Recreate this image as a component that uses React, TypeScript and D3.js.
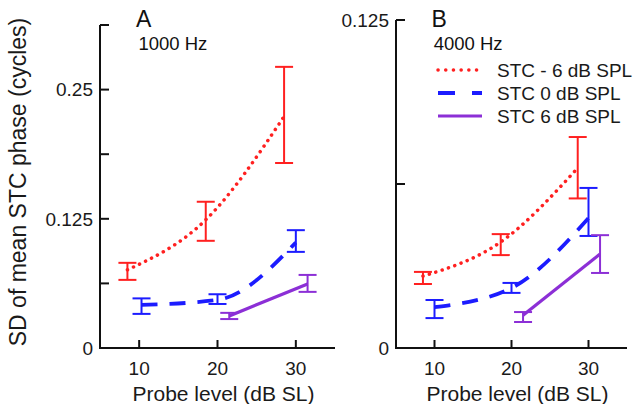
import React from "react";
import * as d3 from "d3";

// ---- data ----
const xTicks = [10, 20, 30];
// Panel A (1000 Hz)
const aRedX = [8.5, 18.5, 28.5];
const aRedY = [0.0756, 0.124, 0.224];
const aRedLo = [0.0659, 0.1037, 0.179];
const aRedHi = [0.0824, 0.1415, 0.272];
const aBlueX = [10.3, 20, 30];
const aBlueY = [0.0417, 0.0465, 0.102];
const aBlueLo = [0.033, 0.0426, 0.093];
const aBlueHi = [0.048, 0.052, 0.114];
const aPurX = [21.5, 31.5];
const aPurY = [0.031, 0.062];
const aPurLo = [0.028, 0.0543];
const aPurHi = [0.034, 0.0707];
const aYTicks = [0, 0.0625, 0.125, 0.1875, 0.25, 0.3125];
const aYLabels = ["0", "", "0.125", "", "0.25", ""];
// Panel B (4000 Hz)
const bRedX = [8.5, 18.6, 28.6];
const bRedY = [0.0274, 0.0404, 0.0686];
const bRedLo = [0.0244, 0.0354, 0.057];
const bRedHi = [0.029, 0.0434, 0.0804];
const bBlueX = [10, 20, 30];
const bBlueY = [0.0156, 0.0229, 0.0495];
const bBlueLo = [0.0114, 0.021, 0.0427];
const bBlueHi = [0.0183, 0.0248, 0.061];
const bPurX = [21.5, 31.5];
const bPurY = [0.0125, 0.0358];
const bPurLo = [0.0099, 0.0286];
const bPurHi = [0.0137, 0.043];
const bYTicks = [0, 0.0625, 0.125];
const bYLabels = ["0", "", "0.125"];

const legendLabels = ["STC - 6 dB SPL", "STC 0 dB SPL", "STC 6 dB SPL"];

const RED = "#ff2020";
const BLUE = "#1c1cff";
const PUR = "#8c2fd6";
const FONT = "'Liberation Sans', Arial, Helvetica, sans-serif";
const DOT = "0.1 6.6";
const DASH = "16 12";

type Series = { x: number[]; y: number[]; lo: number[]; hi: number[]; color: string; dash: string; width: number };

function Panel(props: {
  x0: number; x1: number; yTop: number; yBottom: number; yMax: number;
  yTicks: number[]; yLabels: string[]; series: Series[]; letter: string; freq: string;
}) {
  const { x0, x1, yTop, yBottom, yMax, yTicks, yLabels, series, letter, freq } = props;
  const xs = d3.scaleLinear().domain([5, 35]).range([x0, x1]);
  const ys = d3.scaleLinear().domain([0, yMax]).range([yBottom, yTop]);
  const line = d3.line<[number, number]>().x(d => xs(d[0])).y(d => ys(d[1])).curve(d3.curveMonotoneX);
  return (
    <g>
      {series.map((s, i) => (
        <g key={i}>
          <path d={line(s.x.map((v, j) => [v, s.y[j]] as [number, number])) || ""} fill="none" stroke={s.color}
            strokeWidth={s.width} strokeDasharray={s.dash} strokeLinecap={s.dash === DOT ? "round" : "butt"} />
          {s.x.map((v, j) => (
            <g key={j} stroke={s.color} strokeWidth={2}>
              <line x1={xs(v)} x2={xs(v)} y1={ys(s.lo[j])} y2={ys(s.hi[j])} />
              <line x1={xs(v) - 9} x2={xs(v) + 9} y1={ys(s.lo[j])} y2={ys(s.lo[j])} />
              <line x1={xs(v) - 9} x2={xs(v) + 9} y1={ys(s.hi[j])} y2={ys(s.hi[j])} />
            </g>
          ))}
        </g>
      ))}
      <line x1={x0} x2={x0} y1={yTop} y2={yBottom} stroke="#111" strokeWidth={2} />
      <line x1={x0 - 1} x2={x1} y1={yBottom} y2={yBottom} stroke="#111" strokeWidth={2} />
      {yTicks.map((t, i) => (
        <g key={i}>
          <line x1={x0} x2={x0 + 9} y1={ys(t)} y2={ys(t)} stroke="#111" strokeWidth={2} />
          <text x={x0 - 7} y={ys(t)} dy="0.36em" textAnchor="end" fontSize={19} fontFamily={FONT} fill="#1a1a1a">{yLabels[i]}</text>
        </g>
      ))}
      {xTicks.map((t, i) => (
        <g key={i}>
          <line x1={xs(t)} x2={xs(t)} y1={yBottom} y2={yBottom - 8} stroke="#111" strokeWidth={2} />
          <text x={xs(t)} y={yBottom + 27} textAnchor="middle" fontSize={19} fontFamily={FONT} fill="#1a1a1a">{t}</text>
        </g>
      ))}
      <text x={(x0 + x1) / 2 + 6} y={401} textAnchor="middle" fontSize={21} fontFamily={FONT} fill="#1a1a1a">Probe level (dB SL)</text>
      <text x={xs(9.6)} y={27} fontSize={23} fontFamily={FONT} fill="#111">{letter}</text>
      <text x={xs(9.9)} y={50} fontSize={18.5} fontFamily={FONT} fill="#111">{freq}</text>
    </g>
  );
}

export default function App() {
  const aSeries: Series[] = [
    { x: aRedX, y: aRedY, lo: aRedLo, hi: aRedHi, color: RED, dash: DOT, width: 3.5 },
    { x: aBlueX, y: aBlueY, lo: aBlueLo, hi: aBlueHi, color: BLUE, dash: DASH, width: 3.8 },
    { x: aPurX, y: aPurY, lo: aPurLo, hi: aPurHi, color: PUR, dash: "", width: 3.2 },
  ];
  const bSeries: Series[] = [
    { x: bRedX, y: bRedY, lo: bRedLo, hi: bRedHi, color: RED, dash: DOT, width: 3.5 },
    { x: bBlueX, y: bBlueY, lo: bBlueLo, hi: bBlueHi, color: BLUE, dash: DASH, width: 3.8 },
    { x: bPurX, y: bPurY, lo: bPurLo, hi: bPurHi, color: PUR, dash: "", width: 3.2 },
  ];
  const legendStyles = [
    { color: RED, dash: "0.1 7.6", width: 3.5, cap: "round" },
    { color: BLUE, dash: "17 17", width: 3.8, cap: "butt" },
    { color: PUR, dash: "", width: 3.2, cap: "butt" },
  ];
  return (
    <svg width={635} height={404} style={{ position: "absolute", left: 0, top: 0, background: "#fff" }}>
      <rect width={635} height={404} fill="#fff" />
      <text transform="translate(26,182) rotate(-90)" textAnchor="middle" fontSize={23} fontFamily={FONT} fill="#1a1a1a">
        SD of mean STC phase (cycles)
      </text>
      <Panel x0={100} x1={335} yTop={25} yBottom={348} yMax={0.3125} yTicks={aYTicks} yLabels={aYLabels}
        series={aSeries} letter="A" freq="1000 Hz" />
      <Panel x0={396} x1={627} yTop={20} yBottom={348} yMax={0.125} yTicks={bYTicks} yLabels={bYLabels}
        series={bSeries} letter="B" freq="4000 Hz" />
      {legendLabels.map((l, i) => (
        <g key={i}>
          <line x1={438} x2={482} y1={70 + i * 23} y2={70 + i * 23} stroke={legendStyles[i].color}
            strokeWidth={legendStyles[i].width} strokeDasharray={legendStyles[i].dash} strokeLinecap={legendStyles[i].cap as any} />
          <text x={497} y={70 + i * 23} dy="0.36em" fontSize={19} fontFamily={FONT} fill="#1a1a1a">{l}</text>
        </g>
      ))}
    </svg>
  );
}
